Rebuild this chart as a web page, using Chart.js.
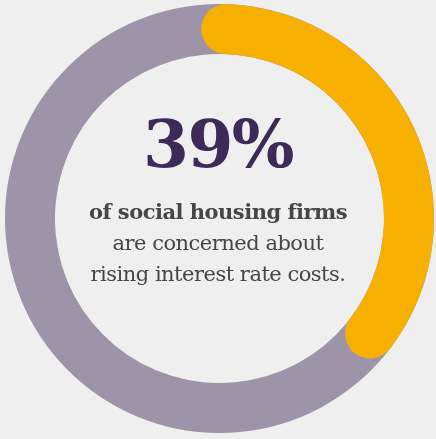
<!DOCTYPE html>
<html lang="en">
<head>
  <meta charset="UTF-8">
  <title>Interest rate concern</title>
  <script src="https://cdn.jsdelivr.net/npm/chart.js"></script>
  <style>
    body {
      margin: 0;
      padding: 0;
      background: #efefef;
    }

    .wrap {
      position: relative;
      width: 436px;
      height: 439px;
    }

    .wrap canvas {
      position: absolute;
      left: 0;
      top: 0;
    }

    .centro {
      position: absolute;
      left: 0;
      width: 436px;
      text-align: center;
      font-family: "DejaVu Serif", serif;
      color: #464646;
    }

    .big {
      top: 105px;
      font-size: 66px;
      font-weight: bold;
      color: #3e2a58;
      letter-spacing: -1.5px;
    }

    .linhas {
      top: 196px;
      font-size: 21px;
      line-height: 31px;
      letter-spacing: -0.5px;
    }
  </style>
</head>
<body>
  <div class="wrap">
    <canvas id="fundo" width="436" height="439"></canvas>
    <canvas id="arco" width="436" height="439"></canvas>
    <div class="centro big" id="valor"></div>
    <div class="centro linhas">
      <b>of social housing firms</b><br>
      are concerned about<br>
      rising interest rate costs.
    </div>
  </div>

  <script>
    // share of firms concerned vs not
    const categorias = ['Concerned', 'Not concerned'];
    const valores = [39, 61];

    const corLaranja = '#f8b000';
    const corCinza = '#9e94a9';

    document.getElementById('valor').textContent = valores[0] + '%';

    const base = {
      responsive: false,
      animation: false,
      events: [],
      cutout: '76.7%',
      rotation: -5.5,
      layout: { padding: { left: 5, right: 2, top: 4, bottom: 6 } },
      plugins: {
        legend: { display: false },
        tooltip: { enabled: false }
      }
    };

    // grey track: one slice for the total so there is no seam
    const total = valores[0] + valores[1];
    new Chart(document.getElementById('fundo'), {
      type: 'doughnut',
      data: {
        labels: ['Total'],
        datasets: [{
          data: [total],
          backgroundColor: corCinza,
          borderWidth: 0,
          hoverOffset: 0
        }]
      },
      options: base
    });

    // orange arc with round ends drawn over the track
    new Chart(document.getElementById('arco'), {
      type: 'doughnut',
      data: {
        labels: categorias,
        datasets: [{
          data: valores,
          backgroundColor: [corLaranja, 'rgba(0,0,0,0)'],
          borderWidth: 0,
          borderRadius: [25, 0],
          hoverOffset: 0
        }]
      },
      options: base
    });
  </script>
</body>
</html>
